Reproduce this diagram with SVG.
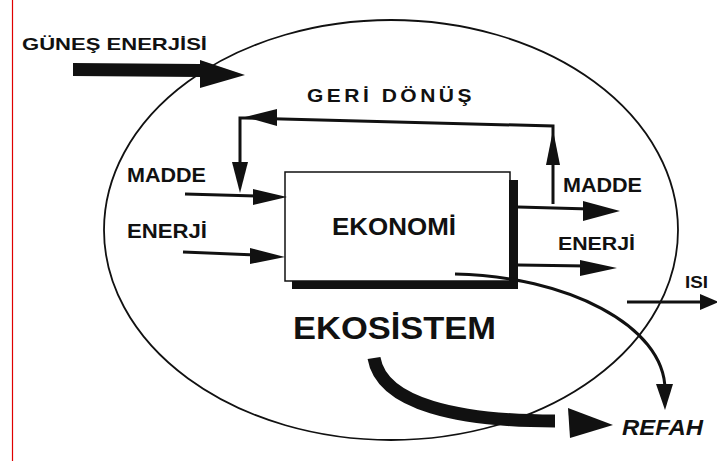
<svg xmlns="http://www.w3.org/2000/svg" width="717" height="461" viewBox="0 0 717 461">
<style>
.t{font-family:"Liberation Sans",Arial,sans-serif;font-weight:bold;fill:#111}
.ln{stroke:#111;stroke-width:3;fill:none}
.hd{fill:#111}
</style>
<rect width="717" height="461" fill="#fff"/>
<line x1="12.5" y1="0" x2="12.5" y2="461" stroke="#e00000" stroke-width="1.2"/>
<g id="ekosistem">
<ellipse cx="391" cy="230" rx="287" ry="210" fill="none" stroke="#111" stroke-width="1.8"/>
<text class="t" x="293" y="339" font-size="32" textLength="203" lengthAdjust="spacingAndGlyphs">EKOSİSTEM</text>
</g>
<g id="ekonomi">
<rect x="285" y="172" width="225" height="109" fill="#fff" stroke="#111" stroke-width="1.5"/>
<polygon points="509,180 518,180 518,289 292,289 292,281 509,281" fill="#111"/>
<text class="t" x="332" y="235" font-size="23" textLength="124" lengthAdjust="spacingAndGlyphs">EKONOMİ</text>
</g>
<g id="labels">
<text class="t" x="22" y="50" font-size="17" textLength="185" lengthAdjust="spacingAndGlyphs">GÜNEŞ ENERJİSİ</text>
<text class="t" x="307" y="102" font-size="18" letter-spacing="3" textLength="168" lengthAdjust="spacingAndGlyphs">GERİ DÖNÜŞ</text>
<text class="t" x="127" y="182" font-size="20" textLength="79" lengthAdjust="spacingAndGlyphs">MADDE</text>
<text class="t" x="127" y="238" font-size="20" textLength="80" lengthAdjust="spacingAndGlyphs">ENERJİ</text>
<text class="t" x="563" y="192" font-size="20" textLength="79" lengthAdjust="spacingAndGlyphs">MADDE</text>
<text class="t" x="558" y="250" font-size="19" textLength="77" lengthAdjust="spacingAndGlyphs">ENERJİ</text>
<text class="t" x="685" y="288" font-size="17" textLength="23" lengthAdjust="spacingAndGlyphs">ISI</text>
<text class="t" x="622" y="435" font-size="22" font-style="italic" textLength="81" lengthAdjust="spacingAndGlyphs">REFAH</text>
</g>
<g id="connectors">
<polygon points="73,63 200,64 200,60 245,75 200,88 200,77 73,76" class="hd"/>
<polyline class="ln" points="553,204 553,126 245,118 240,118 240,165"/>
<polygon class="hd" points="245,117 277,109 277,126"/>
<polygon class="hd" points="240,193 232,162 248,162"/>
<polygon class="hd" points="553,130 546,165 560,165"/>
<line class="ln" x1="185" y1="194" x2="260" y2="196"/>
<polygon class="hd" points="287,197 253,189 253,205"/>
<line class="ln" x1="183" y1="252" x2="258" y2="255"/>
<polygon class="hd" points="285,257 250,248 250,264"/>
<line class="ln" x1="518" y1="207" x2="590" y2="209"/>
<polygon class="hd" points="620,211 583,201 583,221"/>
<line class="ln" x1="518" y1="265" x2="587" y2="266"/>
<polygon class="hd" points="617,268 580,260 580,276"/>
<line class="ln" x1="627" y1="302" x2="705" y2="302"/>
<polygon class="hd" points="719,302 700,294 700,310"/>
<path class="ln" d="M455,274 C565,276 665,325 665,390"/>
<polygon class="hd" points="665,410 656,384 673,384"/>
<path d="M374,358 C382,405 460,421 555,421" fill="none" stroke="#111" stroke-width="13"/>
<polygon class="hd" points="613,425 568,408 570,438"/>
</g>
</svg>
